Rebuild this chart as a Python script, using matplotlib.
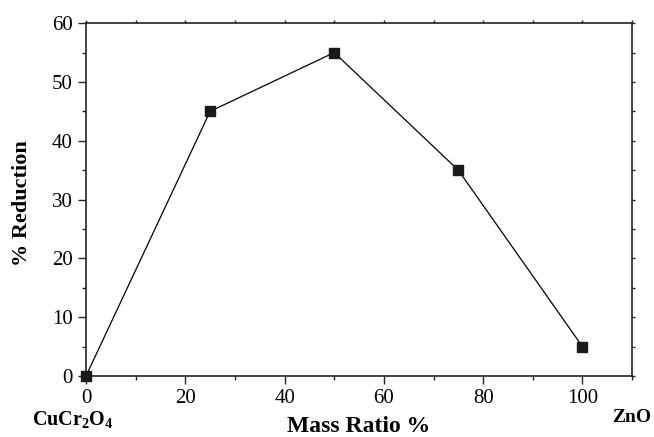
import matplotlib.pyplot as plt
from matplotlib.ticker import MultipleLocator

plt.rcParams['font.family'] = ['Liberation Serif', 'DejaVu Serif']
plt.rcParams['mathtext.fontset'] = 'custom'
plt.rcParams['mathtext.rm'] = 'Liberation Serif'
plt.rcParams['mathtext.bf'] = 'Liberation Serif:bold'

mass_ratio = [0, 25, 50, 75, 100]
reduction = [0, 45, 55, 35, 5]

fig = plt.figure(figsize=(6.54, 4.37), dpi=100)
ax = fig.add_axes([0.1315, 0.1396, 0.835, 0.8074])

ax.plot(mass_ratio, reduction, color='black', lw=0.9, marker='s', ms=6.5,
        mfc='#1a1a1a', mec='#1a1a1a', clip_on=False, zorder=3)

ax.set_xlim(0, 110)
ax.set_ylim(0, 60)
ax.xaxis.set_major_locator(MultipleLocator(20))
ax.xaxis.set_minor_locator(MultipleLocator(10))
ax.yaxis.set_major_locator(MultipleLocator(10))
ax.yaxis.set_minor_locator(MultipleLocator(5))

ax.tick_params(which='both', direction='out', labelsize=15, width=1, color='#222222')
ax.tick_params(which='major', length=5.5, pad=4)
ax.tick_params(which='minor', length=3)
ax.tick_params(which='both', top=True, right=True)
for s in ax.spines.values():
    s.set_linewidth(1.2)
    s.set_color('#222222')

# tiny ticks on top and right
for t in ax.xaxis.get_major_ticks() + ax.xaxis.get_minor_ticks():
    t.tick2line.set_markersize(2)
for t in ax.yaxis.get_major_ticks() + ax.yaxis.get_minor_ticks():
    t.tick2line.set_markersize(2)

ax.set_xlabel('Mass Ratio %', fontsize=17, fontweight='bold', va='baseline')
ax.xaxis.set_label_coords(0.5, -0.160)
ax.set_ylabel('% Reduction', fontsize=16, fontweight='bold', va='center')
ax.yaxis.set_label_coords(-0.118, 0.49)

fig.text(0.049, 0.0275, r'$\mathbf{CuCr_2O_4}$', fontsize=14.5, va='baseline')
fig.text(0.936, 0.0343, 'ZnO', fontsize=14, fontweight='bold', va='baseline')

fig.savefig('out.png', dpi=100)
